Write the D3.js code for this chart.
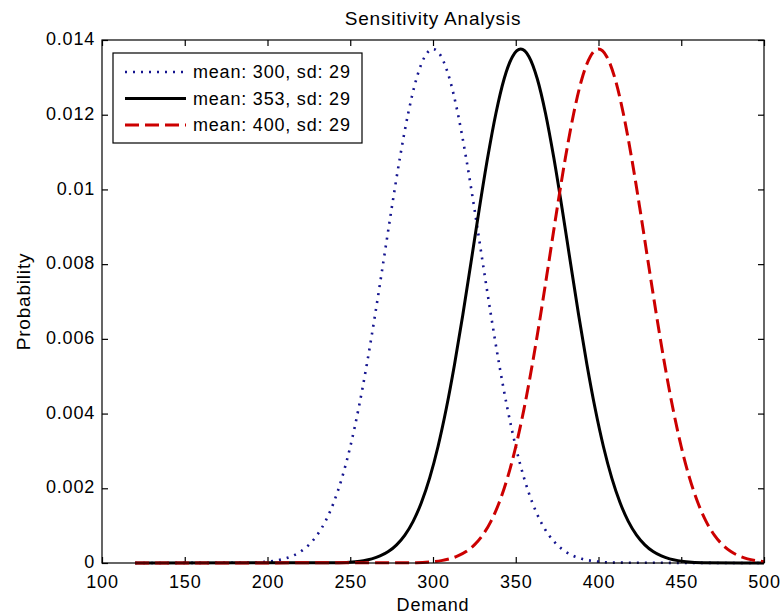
<!DOCTYPE html>
<html>
<head>
<meta charset="utf-8">
<script src="https://cdn.jsdelivr.net/npm/d3@7"></script>
<style>
  body { margin: 0; background: #fff; }
  svg text { font-family: "Liberation Sans", Arial, sans-serif; fill: #000; letter-spacing: 0.8px; }
</style>
</head>
<body>
<svg id="chart" width="781" height="616"></svg>
<script>
'use strict';

const chart_title = 'Sensitivity Analysis';
const x_label = 'Demand';
const y_label = 'Probability';

const x_ticks = [100, 150, 200, 250, 300, 350, 400, 450, 500];
const y_ticks = [0, 0.002, 0.004, 0.006, 0.008, 0.01, 0.012, 0.014];

const series_names = ['mean: 300, sd: 29', 'mean: 353, sd: 29', 'mean: 400, sd: 29'];

// values, curve by curve
const demand_300 = [120, 190, 200, 205, 210, 215, 220, 225, 230, 235, 240, 245, 250, 255, 260, 265,
  270, 275, 280, 285, 290, 295, 300, 305, 310, 315, 320, 325, 330, 335, 340, 345, 350, 355, 360,
  365, 370, 375, 380, 385, 390, 395, 400, 410, 500];
const prob_300 = [0, 0.00001, 0.000036, 0.000064, 0.000111, 0.000188, 0.000306, 0.000486, 0.000747,
  0.001116, 0.001618, 0.002278, 0.003112, 0.004127, 0.005314, 0.006641, 0.008056, 0.009488,
  0.010845, 0.012034, 0.012963, 0.013554, 0.013757, 0.013554, 0.012963, 0.012034, 0.010845,
  0.009488, 0.008056, 0.006641, 0.005314, 0.004127, 0.003112, 0.002278, 0.001618, 0.001116,
  0.000747, 0.000486, 0.000306, 0.000188, 0.000111, 0.000064, 0.000036, 0.00001, 0];

const demand_353 = [120, 243, 253, 258, 263, 268, 273, 278, 283, 288, 293, 298, 303, 308, 313, 318,
  323, 328, 333, 338, 343, 348, 353, 358, 363, 368, 373, 378, 383, 388, 393, 398, 403, 408, 413,
  418, 423, 428, 433, 438, 443, 448, 453, 463, 500];
const prob_353 = [0, 0.00001, 0.000036, 0.000064, 0.000111, 0.000188, 0.000306, 0.000486, 0.000747,
  0.001116, 0.001618, 0.002278, 0.003112, 0.004127, 0.005314, 0.006641, 0.008056, 0.009488,
  0.010845, 0.012034, 0.012963, 0.013554, 0.013757, 0.013554, 0.012963, 0.012034, 0.010845,
  0.009488, 0.008056, 0.006641, 0.005314, 0.004127, 0.003112, 0.002278, 0.001618, 0.001116,
  0.000747, 0.000486, 0.000306, 0.000188, 0.000111, 0.000064, 0.000036, 0.00001, 0];

const demand_400 = [120, 290, 300, 305, 310, 315, 320, 325, 330, 335, 340, 345, 350, 355, 360, 365,
  370, 375, 380, 385, 390, 395, 400, 405, 410, 415, 420, 425, 430, 435, 440, 445, 450, 455, 460,
  465, 470, 475, 480, 485, 490, 495, 500];
const prob_400 = [0, 0.00001, 0.000036, 0.000064, 0.000111, 0.000188, 0.000306, 0.000486, 0.000747,
  0.001116, 0.001618, 0.002278, 0.003112, 0.004127, 0.005314, 0.006641, 0.008056, 0.009488,
  0.010845, 0.012034, 0.012963, 0.013554, 0.013757, 0.013554, 0.012963, 0.012034, 0.010845,
  0.009488, 0.008056, 0.006641, 0.005314, 0.004127, 0.003112, 0.002278, 0.001618, 0.001116,
  0.000747, 0.000486, 0.000306, 0.000188, 0.000111, 0.000064, 0.000036];

const line_styles = [
  { color: '#15158f', width: 2.6, dash: '2,6' },
  { color: '#000000', width: 3, dash: null },
  { color: '#cc0000', width: 3, dash: '14,6' }
];

const margin = { top: 40, right: 17, bottom: 53, left: 102 };
const width = 781 - margin.left - margin.right;
const height = 616 - margin.top - margin.bottom;

const svg = d3.select('#chart');
const g = svg.append('g').attr('transform', `translate(${margin.left},${margin.top})`);

const x = d3.scaleLinear().domain([100, 500]).range([0, width]);
const y = d3.scaleLinear().domain([0, 0.014]).range([height, 0]);

const series = [
  { name: series_names[0], demand: demand_300, prob: prob_300 },
  { name: series_names[1], demand: demand_353, prob: prob_353 },
  { name: series_names[2], demand: demand_400, prob: prob_400 }
];

const fmt = d => d === 0 ? '0' : String(d);

// axes, ticks point inward like matlab
const x_axis = g.append('g').attr('transform', `translate(0,${height})`)
  .call(d3.axisBottom(x).tickValues(x_ticks).tickSizeInner(-6).tickSizeOuter(0).tickPadding(12).tickFormat(d3.format('d')));
const x_axis_top = g.append('g')
  .call(d3.axisTop(x).tickValues(x_ticks).tickSizeInner(-6).tickSizeOuter(0).tickFormat(''));
const y_axis = g.append('g')
  .call(d3.axisLeft(y).tickValues(y_ticks).tickSizeInner(-6).tickSizeOuter(0).tickPadding(7).tickFormat(fmt));
const y_axis_right = g.append('g').attr('transform', `translate(${width},0)`)
  .call(d3.axisRight(y).tickValues(y_ticks).tickSizeInner(-6).tickSizeOuter(0).tickFormat(''));

for (const ax of [x_axis, x_axis_top, y_axis, y_axis_right]) {
  ax.select('.domain').remove();
  ax.selectAll('line').attr('stroke', '#000').attr('stroke-width', 1.2);
  ax.selectAll('text').style('font-size', '18px').attr('fill', '#000');
}
y_axis.selectAll('text').attr('dy', '0.26em');

// curves
const line = d3.line()
  .x(d => x(d[0]))
  .y(d => y(d[1]))
  .curve(d3.curveMonotoneX);

series.forEach((s, i) => {
  const pts = s.demand.map((d, j) => [d, s.prob[j]]);
  g.append('path')
    .datum(pts)
    .attr('d', line)
    .attr('fill', 'none')
    .attr('stroke', line_styles[i].color)
    .attr('stroke-width', line_styles[i].width)
    .attr('stroke-dasharray', line_styles[i].dash);
});

// plot frame
g.append('rect')
  .attr('width', width).attr('height', height)
  .attr('fill', 'none').attr('stroke', '#000').attr('stroke-width', 1.2);

// legend
const legend = g.append('g').attr('transform', 'translate(11,13)');
legend.append('rect')
  .attr('width', 249).attr('height', 90)
  .attr('fill', '#fff').attr('stroke', '#000').attr('stroke-width', 1.2);

series.forEach((s, i) => {
  const ly = 19 + i * 26.5;
  legend.append('line')
    .attr('x1', 12).attr('x2', 73).attr('y1', ly).attr('y2', ly)
    .attr('stroke', line_styles[i].color)
    .attr('stroke-width', line_styles[i].width)
    .attr('stroke-dasharray', line_styles[i].dash);
  legend.append('text')
    .attr('x', 80).attr('y', ly).attr('dy', '0.35em')
    .style('font-size', '18px')
    .text(s.name);
});

// titles
svg.append('text')
  .attr('x', margin.left + width / 2).attr('y', 25)
  .attr('text-anchor', 'middle').style('font-size', '19px')
  .text(chart_title);

svg.append('text')
  .attr('x', margin.left + width / 2).attr('y', 611)
  .attr('text-anchor', 'middle').style('font-size', '18px')
  .text(x_label);

svg.append('text')
  .attr('transform', `translate(30,${margin.top + height / 2}) rotate(-90)`)
  .attr('text-anchor', 'middle').style('font-size', '19px')
  .text(y_label);
</script>
</body>
</html>
